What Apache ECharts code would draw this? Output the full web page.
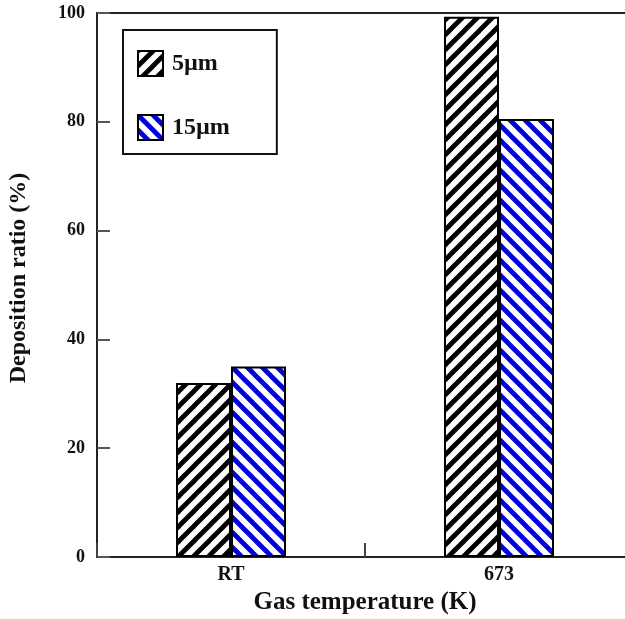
<!DOCTYPE html>
<html><head><meta charset="utf-8">
<script src="https://cdn.jsdelivr.net/npm/echarts@6/dist/echarts.min.js"></script>
<style>html,body{margin:0;padding:0;background:#fff}#c{width:625px;height:619px}</style>
</head><body><div id="c"></div>
<script>
const categories = ['RT', '673'];
const seriesNames = ['5µm', '15µm'];
const values5 = [32, 99.3];
const values15 = [35, 80.5];
const yTicks = { min: 0, max: 100, interval: 20 };

function stripe(color, dir) {
  const s = 15, c = document.createElement('canvas');
  c.width = s; c.height = s;
  const g = c.getContext('2d');
  g.fillStyle = '#fff'; g.fillRect(0, 0, s, s);
  g.strokeStyle = color; g.lineWidth = 4.8;
  for (let k = -1; k <= 1; k++) {
    g.beginPath();
    if (dir > 0) { g.moveTo(-2 + k * s, s + 2); g.lineTo(s + 2 + k * s, -2); }
    else { g.moveTo(-2 + k * s, -2); g.lineTo(s + 2 + k * s, s + 2); }
    g.stroke();
  }
  return { image: c, repeat: 'repeat' };
}
const font = '"Liberation Serif","Times New Roman",serif';
const chart = echarts.init(document.getElementById('c'));
chart.setOption({
  animation: false,
  backgroundColor: '#fff',
  grid: { left: 97, right: -8, top: 13, bottom: 62, outerBoundsMode: 'none',
          show: true, borderColor: '#222', borderWidth: 2 },
  legend: {
    orient: 'vertical', left: 123, top: 30,
    padding: [20, 47, 13, 14], itemGap: 37,
    itemWidth: 25, itemHeight: 25, icon: 'rect',
    borderColor: '#111', borderWidth: 2, borderRadius: 0,
    textStyle: { fontFamily: font, fontWeight: 'bold', fontSize: 24, color: '#111', padding: [0, 0, 0, 4] },
    data: seriesNames
  },
  xAxis: {
    type: 'category', data: categories, boundaryGap: true,
    axisLine: { lineStyle: { color: '#222', width: 2 } },
    axisTick: { show: true, interval: 0, inside: true, length: 14, lineStyle: { color: '#444', width: 2 } },
    axisLabel: { fontFamily: font, fontWeight: 'bold', fontSize: 20, color: '#111', margin: 8 },
    name: 'Gas temperature (K)', nameLocation: 'middle', nameGap: 30,
    nameTextStyle: { fontFamily: font, fontWeight: 'bold', fontSize: 25, color: '#111' }
  },
  yAxis: {
    type: 'value', min: yTicks.min, max: yTicks.max, interval: yTicks.interval,
    splitLine: { show: false },
    axisLine: { show: true, lineStyle: { color: '#222', width: 2 } },
    axisTick: { show: true, inside: true, length: 13, lineStyle: { color: '#555', width: 2 } },
    axisLabel: { fontFamily: font, fontWeight: 'bold', fontSize: 18, color: '#111', margin: 12 },
    name: 'Deposition ratio (%)', nameLocation: 'middle', nameGap: 66,
    nameTextStyle: { fontFamily: font, fontWeight: 'bold', fontSize: 24, color: '#111', padding: [0, 0, 0, 14] }
  },
  series: [
    { name: seriesNames[0], type: 'bar', data: values5, barWidth: 55, barGap: '0%',
      itemStyle: { color: stripe('#000', 1), borderColor: '#000', borderWidth: 2 } },
    { name: seriesNames[1], type: 'bar', data: values15, barWidth: 55, barGap: '0%',
      itemStyle: { color: stripe('#0000dd', -1), borderColor: '#000', borderWidth: 2 } }
  ]
});
</script></body></html>
